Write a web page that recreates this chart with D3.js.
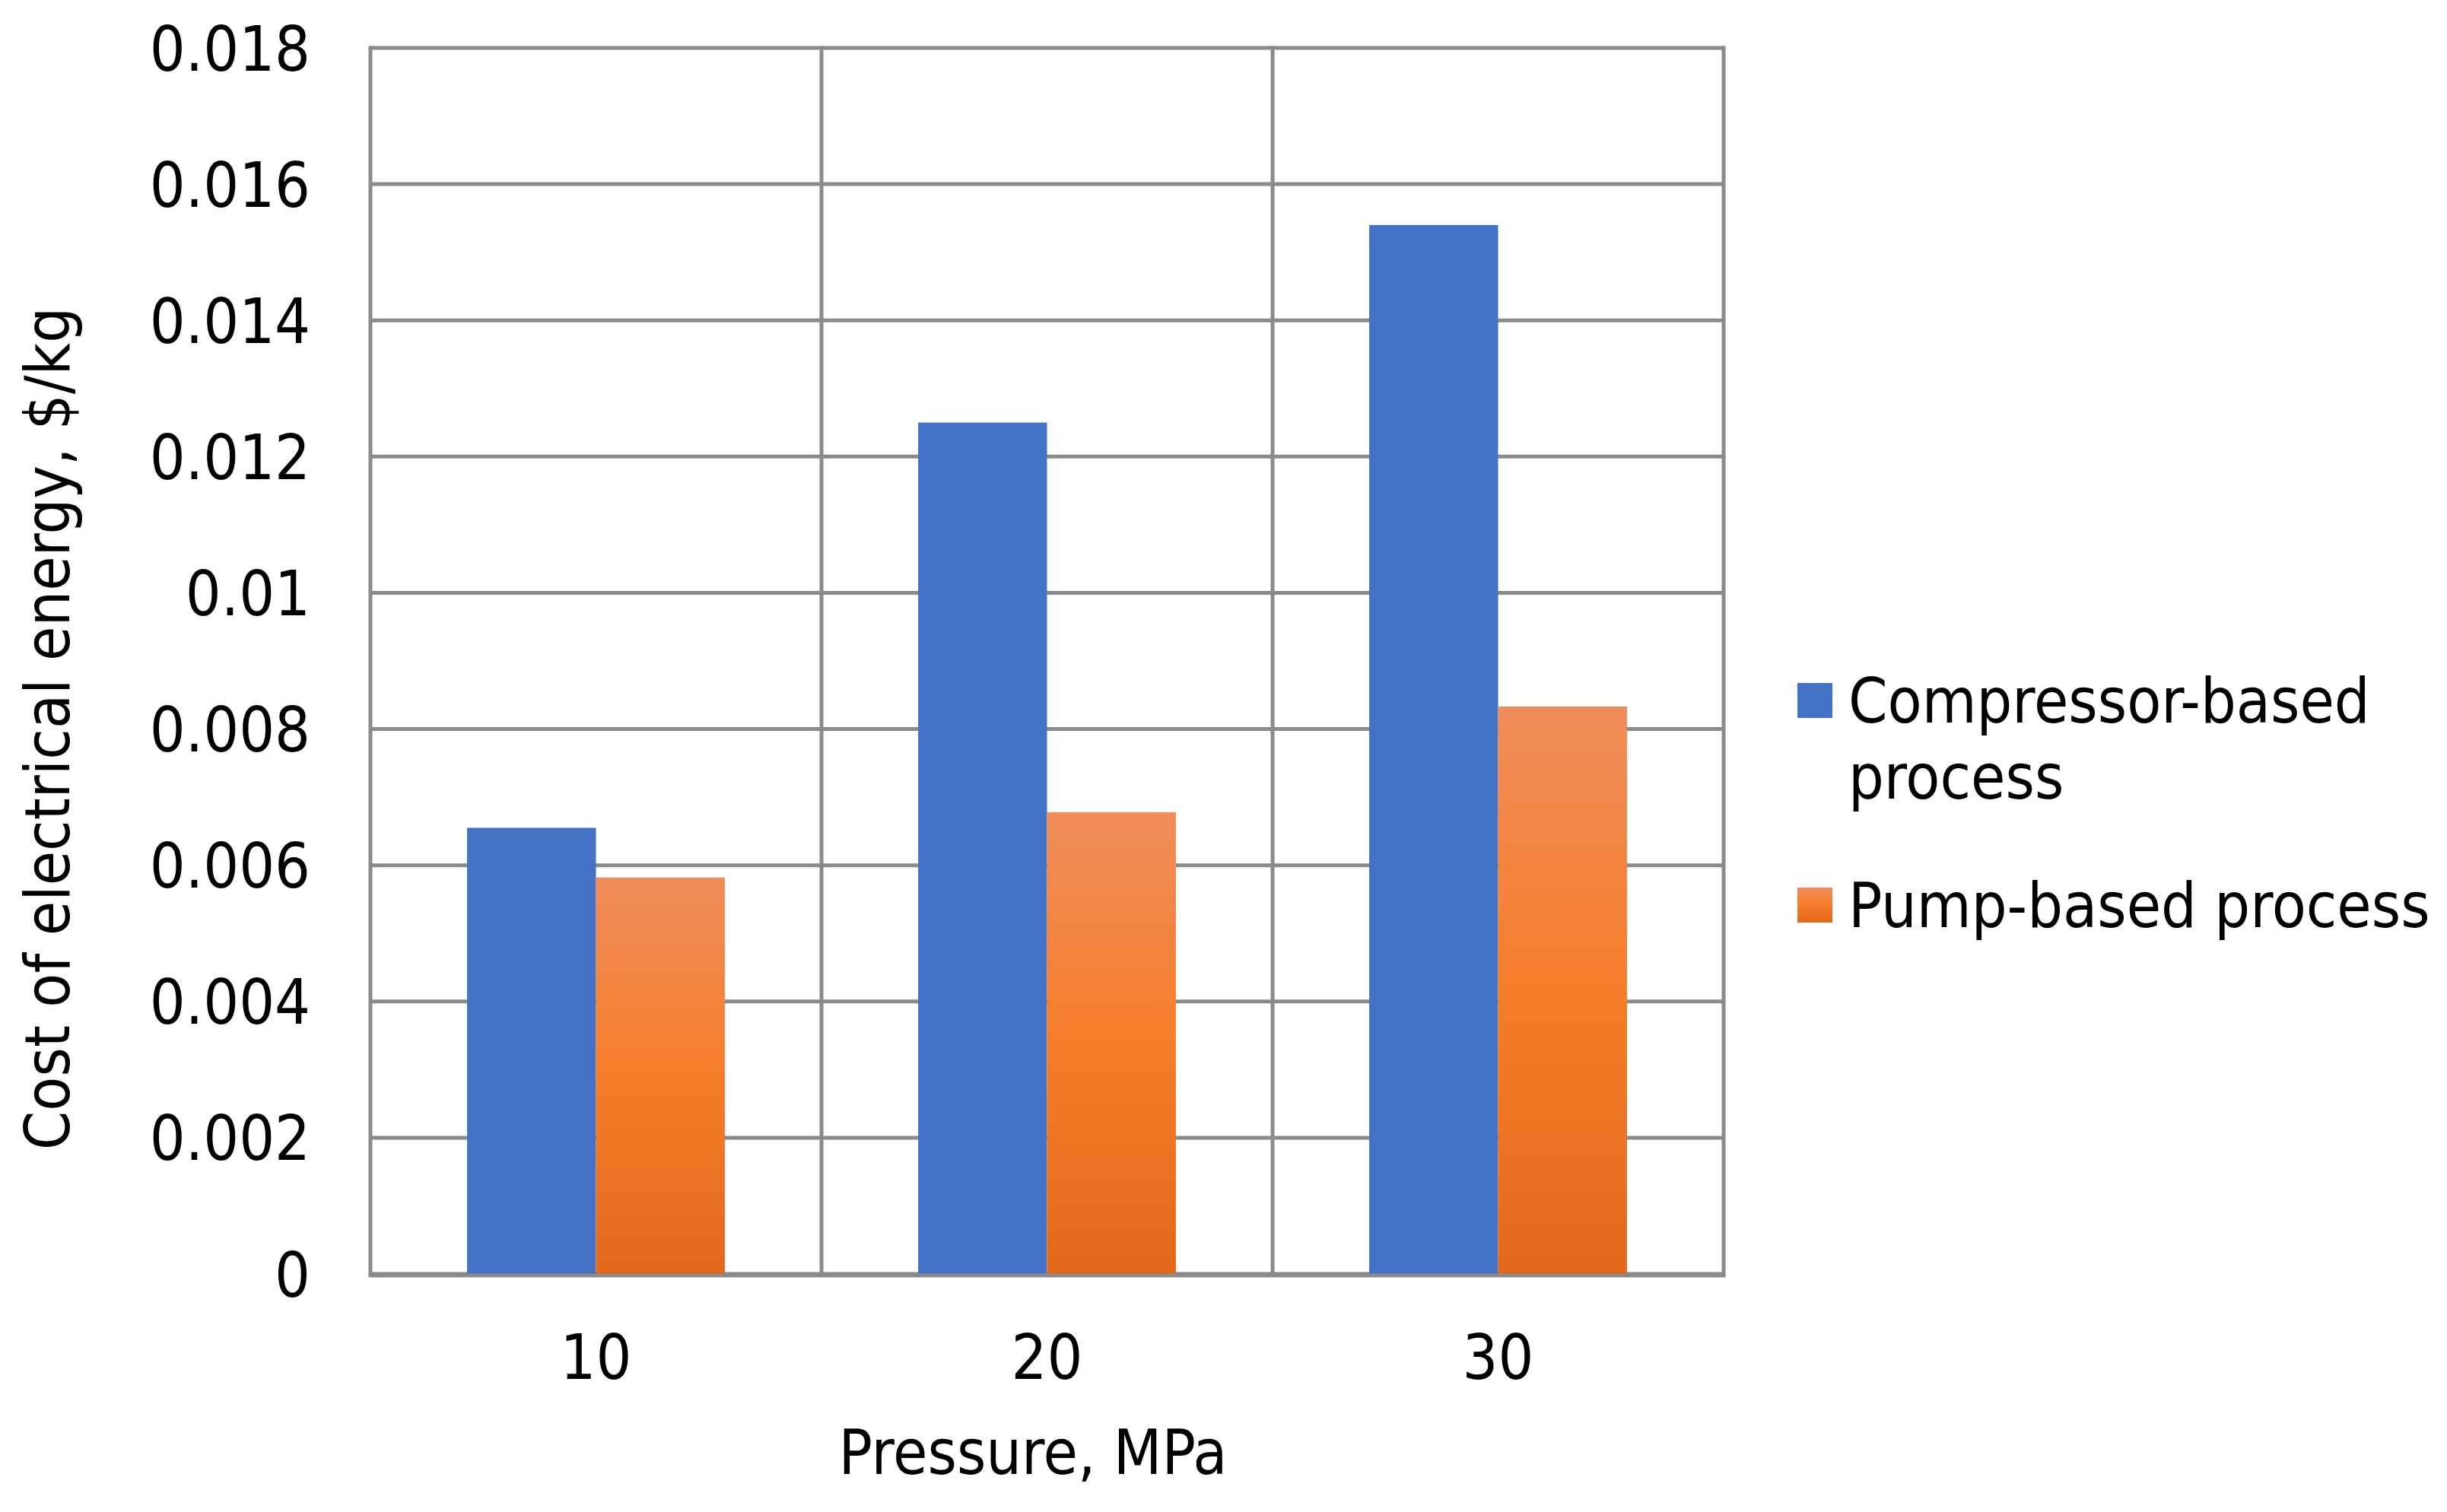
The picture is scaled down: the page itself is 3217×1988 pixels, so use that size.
<!DOCTYPE html>
<html>
<head>
<meta charset="utf-8">
<script src="https://cdn.jsdelivr.net/npm/d3@7"></script>
<style>
  html, body { margin: 0; padding: 0; background: #fff; }
  svg text { font-family: Tahoma, 'DejaVu Sans Condensed', 'DejaVu Sans', sans-serif; fill: #000; }
</style>
</head>
<body>
<svg id="chart" width="3217" height="1988"></svg>
<script>
// chart data
const pressures = ['10', '20', '30']
const seriesNames = ['Compressor-based process', 'Pump-based process']
const compressorCost = [0.00655, 0.0125, 0.0154]
const pumpCost = [0.00582, 0.00678, 0.00833]
const yTicks = [0, 0.002, 0.004, 0.006, 0.008, 0.01, 0.012, 0.014, 0.016, 0.018]

const svg = d3.select('#chart')
const fontSize = 82
const gridColor = '#8a8a8a'

const plot = { left: 487, right: 2266, top: 63, bottom: 1675 }

const x0 = d3.scaleBand()
  .domain(pressures)
  .range([plot.left, plot.right])
  .padding(0)

const x1 = d3.scaleBand()
  .domain(seriesNames)
  .range([0, x0.bandwidth()])
  .paddingInner(0)
  .paddingOuter(0.75)

const y = d3.scaleLinear()
  .domain([0, 0.018])
  .range([plot.bottom, plot.top])

// orange gradient, light at top, dark at the base
const defs = svg.append('defs')
const grad = defs.append('linearGradient')
  .attr('id', 'orangeGrad')
  .attr('x1', 0).attr('y1', 0).attr('x2', 0).attr('y2', 1)
grad.append('stop').attr('offset', '0%').attr('stop-color', '#f08d5b')
grad.append('stop').attr('offset', '48%').attr('stop-color', '#f57e2c')
grad.append('stop').attr('offset', '100%').attr('stop-color', '#e3691a')

const fills = ['#4472c4', 'url(#orangeGrad)']

// horizontal gridlines
svg.append('g')
  .selectAll('line')
  .data(yTicks)
  .join('line')
  .attr('x1', plot.left)
  .attr('x2', plot.right)
  .attr('y1', d => y(d))
  .attr('y2', d => y(d))
  .attr('stroke', gridColor)
  .attr('stroke-width', 5)

// vertical gridlines at category boundaries
const xEdges = pressures.map(p => x0(p)).concat([plot.right])
svg.append('g')
  .selectAll('line')
  .data(xEdges)
  .join('line')
  .attr('x1', d => d)
  .attr('x2', d => d)
  .attr('y1', plot.top - 2.5)
  .attr('y2', plot.bottom + 2.5)
  .attr('stroke', gridColor)
  .attr('stroke-width', 5)

// bars
const rows = pressures.map((p, i) => ({ p, values: [compressorCost[i], pumpCost[i]] }))
svg.append('g')
  .selectAll('g')
  .data(rows)
  .join('g')
  .attr('transform', d => `translate(${x0(d.p)},0)`)
  .selectAll('rect')
  .data(d => d.values.map((v, j) => ({ name: seriesNames[j], v, j })))
  .join('rect')
  .attr('x', d => x1(d.name))
  .attr('width', x1.bandwidth())
  .attr('y', d => y(d.v))
  .attr('height', d => y(0) - y(d.v))
  .attr('fill', d => fills[d.j])

// baseline over the bars
svg.append('line')
  .attr('x1', plot.left - 2.5)
  .attr('x2', plot.right + 2.5)
  .attr('y1', y(0) + 2)
  .attr('y2', y(0) + 2)
  .attr('stroke', gridColor)
  .attr('stroke-width', 5)

// y tick labels
svg.append('g')
  .selectAll('text')
  .data(yTicks)
  .join('text')
  .attr('x', 408)
  .attr('y', d => y(d))
  .attr('dy', '0.36em')
  .attr('text-anchor', 'end')
  .style('font-size', fontSize + 'px')
  .text(d3.format('~g'))

// x tick labels
svg.append('g')
  .selectAll('text')
  .data(pressures)
  .join('text')
  .attr('x', d => x0(d) + x0.bandwidth() / 2)
  .attr('y', 1813)
  .attr('text-anchor', 'middle')
  .style('font-size', fontSize + 'px')
  .text(d => d)

// axis titles
svg.append('text')
  .attr('x', 1358)
  .attr('y', 1938)
  .attr('text-anchor', 'middle')
  .style('font-size', fontSize + 'px')
  .text('Pressure, MPa')

svg.append('text')
  .attr('transform', 'translate(91,958) rotate(-90)')
  .attr('text-anchor', 'middle')
  .style('font-size', fontSize + 'px')
  .text('Cost of electrical energy, $/kg')

// legend
const legend = svg.append('g')
const legendItems = [
  { lines: ['Compressor-based', 'process'], top: 898, fill: fills[0] },
  { lines: ['Pump-based process'], top: 1167, fill: fills[1] }
]
legendItems.forEach(item => {
  legend.append('rect')
    .attr('x', 2363)
    .attr('y', item.top)
    .attr('width', 46)
    .attr('height', 46)
    .attr('fill', item.fill)
  item.lines.forEach((line, k) => {
    legend.append('text')
      .attr('x', 2430)
      .attr('y', item.top + 52 + k * 100)
      .style('font-size', fontSize + 'px')
      .text(line)
  })
})
</script>
</body>
</html>
